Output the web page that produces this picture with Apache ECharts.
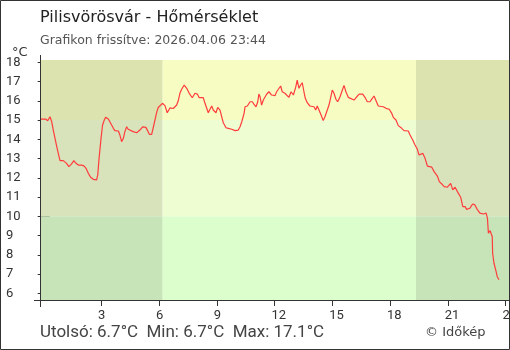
<!DOCTYPE html>
<html>
<head>
<meta charset="utf-8">
<script src="https://cdn.jsdelivr.net/npm/echarts@6/dist/echarts.min.js"></script>
<style>
html,body{margin:0;padding:0;background:#fff;}
#c{width:510px;height:350px;}
</style>
</head>
<body>
<div id="c"></div>
<script>
const titleText = 'Pilisvörösvár - Hőmérséklet';
const subtitleText = 'Grafikon frissítve: 2026.04.06 23:44';
const unitText = '°C';
const creditText = '© Időkép';

const hours = [-0.18,0.10,0.21,0.33,0.42,0.50,0.59,0.68,0.76,0.85,0.94,1.02,1.11,1.19,1.31,1.45,1.57,1.68,1.80,1.97,2.09,2.20,2.32,2.44,2.58,2.75,2.81,2.87,2.92,2.98,3.06,3.15,3.22,3.36,3.44,3.53,3.62,3.70,3.88,3.96,4.05,4.14,4.22,4.31,4.39,4.48,4.65,4.83,4.91,5.00,5.14,5.21,5.31,5.40,5.49,5.61,5.69,5.78,5.87,5.95,6.04,6.17,6.30,6.42,6.56,6.73,6.91,6.99,7.08,7.17,7.30,7.43,7.56,7.72,7.86,7.98,8.08,8.29,8.38,8.47,8.55,8.64,8.73,8.81,8.95,9.04,9.16,9.25,9.33,9.47,9.59,9.77,9.94,10.11,10.20,10.29,10.41,10.46,10.58,10.72,10.84,10.92,11.03,11.12,11.18,11.24,11.32,11.41,11.58,11.70,11.84,12.02,12.10,12.19,12.31,12.39,12.53,12.62,12.74,12.85,12.97,13.09,13.17,13.26,13.35,13.43,13.52,13.59,13.69,13.83,14.04,14.13,14.21,14.30,14.41,14.52,14.61,14.70,14.82,14.91,14.99,15.08,15.18,15.27,15.39,15.53,15.60,15.70,15.82,15.91,16.12,16.26,16.39,16.57,16.69,16.81,16.95,17.07,17.16,17.26,17.38,17.64,17.78,17.95,18.08,18.16,18.30,18.42,18.60,18.72,18.94,19.03,19.17,19.29,19.41,19.50,19.58,19.69,19.81,19.93,20.16,20.28,20.45,20.55,20.68,20.80,20.97,21.14,21.25,21.37,21.49,21.66,21.77,21.89,21.97,22.14,22.28,22.40,22.52,22.66,22.84,22.98,23.05,23.10,23.19,23.27,23.30,23.32,23.39,23.48,23.56,23.65];
const temps = [15.05,15.05,14.96,15.17,14.91,14.48,14.05,13.62,13.27,12.89,12.84,12.89,12.98,12.75,12.58,12.72,12.89,12.75,12.66,12.66,12.62,12.49,12.23,12.03,11.92,11.89,12.15,12.92,13.44,14.05,14.74,15.00,15.14,15.05,15.00,14.74,14.57,14.45,14.43,14.22,13.88,14.05,14.40,14.65,14.52,14.45,14.40,14.34,14.26,14.48,14.65,14.74,14.62,14.45,14.26,14.26,14.60,15.00,15.40,15.65,15.69,15.87,15.75,15.38,15.63,15.60,15.78,16.00,16.40,16.60,16.82,16.65,16.39,16.16,16.39,16.35,16.16,16.16,15.87,15.61,15.38,15.56,15.73,15.52,15.38,15.66,15.52,15.17,14.86,14.60,14.57,14.52,14.45,14.48,14.65,14.91,15.35,15.69,15.73,15.95,15.95,15.83,15.69,15.95,16.35,16.21,15.78,16.04,16.34,16.47,16.30,16.27,16.47,16.39,16.77,16.47,16.39,16.30,16.18,16.47,16.30,16.70,17.08,16.65,16.82,16.94,16.47,16.13,15.90,15.73,15.69,15.52,15.73,15.52,15.26,14.97,15.17,15.43,15.78,16.18,16.56,16.39,16.08,15.95,16.20,16.60,16.80,16.47,16.18,16.08,16.04,16.21,16.35,16.35,16.18,15.95,15.95,16.13,16.25,16.18,15.73,15.69,15.61,15.56,15.35,15.14,15.00,14.71,14.57,14.45,14.43,14.22,13.96,13.70,13.48,13.18,13.22,13.27,13.01,12.61,12.55,12.32,12.09,11.80,11.68,11.54,11.51,11.71,11.37,11.51,11.28,10.99,10.50,10.50,10.36,10.42,10.64,10.59,10.36,10.16,10.12,10.16,9.90,9.12,9.25,9.29,8.94,8.08,7.56,7.21,6.86,6.70];

const xTickValues = [3,6,9,12,15,18,21,24];
const yTickValues = [6,7,8,9,10,11,12,13,14,15,16,17,18];
const xRange = [-0.19, 24.17];
const yRange = [5.65, 18.12];
const tempBands = [yRange[0], 10, 15, yRange[1]];
const sunTimes = [6.18, 19.34];

const dayColors = ['#dcfdcc', '#effdd3', '#f6fcc2'];
const nightColors = ['#c6e4b8', '#d8e2bb', '#dce3ae'];

const points = hours.map((h, i) => [h, temps[i]]);
const last = temps[temps.length - 1];
const tMin = Math.min(...temps);
const tMax = Math.max(...temps);
const fmt = v => v.toFixed(1);
const statsText = 'Utolsó: ' + fmt(last) + '°C  Min: ' + fmt(tMin) + '°C  Max: ' + fmt(tMax) + '°C';

const areas = [];
const xSegs = [[xRange[0], sunTimes[0], nightColors], [sunTimes[0], sunTimes[1], dayColors], [sunTimes[1], xRange[1], nightColors]];
xSegs.forEach(seg => {
  for (let b = 0; b < 3; b++) {
    areas.push([
      { xAxis: seg[0], yAxis: tempBands[b], itemStyle: { color: seg[2][b], opacity: 1 } },
      { xAxis: seg[1], yAxis: tempBands[b + 1] }
    ]);
  }
});

const TFONT = 'DejaVu Sans';
const AFONT = 'Roboto';
const chart = echarts.init(document.getElementById('c'), null, { renderer: 'canvas' });
const axisCommonX = {
  type: 'value', min: xRange[0], max: xRange[1], position: 'bottom',
  splitLine: { show: false }, axisLine: { show: false }
};
const axisCommonY = {
  type: 'value', min: yRange[0], max: yRange[1], position: 'left',
  splitLine: { show: false }, axisLine: { show: false }
};
chart.setOption({
  animation: false,
  backgroundColor: '#fff',
  grid: { left: 40, right: 1, top: 60, bottom: 50, containLabel: false, outerBoundsMode: 'none' },
  title: [
    { text: titleText, left: 40, top: 10, padding: 0, textStyle: { fontFamily: TFONT, fontSize: 16, fontWeight: 'normal', color: '#222' } },
    { text: subtitleText, left: 40, top: 34, padding: 0, textStyle: { fontFamily: TFONT, fontSize: 12.5, fontWeight: 'normal', color: '#555' } },
    { text: unitText, left: 12, top: 46, padding: 0, textStyle: { fontFamily: TFONT, fontSize: 13, fontWeight: 'normal', color: '#333' } },
    { text: statsText, left: 40, top: 324, padding: 0, textStyle: { fontFamily: AFONT, fontSize: 17, fontWeight: 'normal', color: '#444' } },
    { text: creditText, left: 425, top: 326, padding: 0, textStyle: { fontFamily: TFONT, fontSize: 13, fontWeight: 'normal', color: '#444' } }
  ],
  xAxis: [
    Object.assign({}, axisCommonX, {
      axisTick: { show: true, inside: false, length: 6, customValues: xTickValues, lineStyle: { color: '#333' } },
      axisLabel: { show: true, customValues: xTickValues, margin: 9, align: 'left', padding: [0, 0, 0, -3.3], fontFamily: AFONT, fontSize: 13, color: '#333', hideOverlap: false }
    }),
    Object.assign({}, axisCommonX, {
      axisTick: { show: true, inside: true, length: 6, customValues: xTickValues, lineStyle: { color: '#333' } },
      axisLabel: { show: false }
    })
  ],
  yAxis: [
    Object.assign({}, axisCommonY, {
      axisTick: { show: true, inside: false, length: 6, customValues: yTickValues, lineStyle: { color: '#333' } },
      axisLabel: { show: true, customValues: yTickValues, margin: 34, align: 'left', fontFamily: AFONT, fontSize: 13, color: '#333' }
    }),
    Object.assign({}, axisCommonY, {
      axisTick: { show: true, inside: true, length: 6, customValues: yTickValues, lineStyle: { color: '#333' } },
      axisLabel: { show: false }
    })
  ],
  graphic: [
    { type: 'line', z: 100, shape: { x1: 40.5, y1: 55, x2: 40.5, y2: 307 }, style: { stroke: '#333', lineWidth: 1 } },
    { type: 'line', z: 100, shape: { x1: 34, y1: 300.5, x2: 510, y2: 300.5 }, style: { stroke: '#333', lineWidth: 1 } },
    { type: 'rect', z: 101, shape: { x: 0.5, y: 0.5, width: 509, height: 349 }, style: { fill: 'none', stroke: '#333', lineWidth: 1 } }
  ],
  series: [
    {
      type: 'line', data: [], z: 1, silent: true,
      markArea: { silent: true, data: areas }
    },
    {
      type: 'line', data: points, z: 5, showSymbol: false, symbol: 'none',
      lineStyle: { color: '#ff3c3c', width: 1.2 }, clip: true
    }
  ]
});
</script>
</body>
</html>
